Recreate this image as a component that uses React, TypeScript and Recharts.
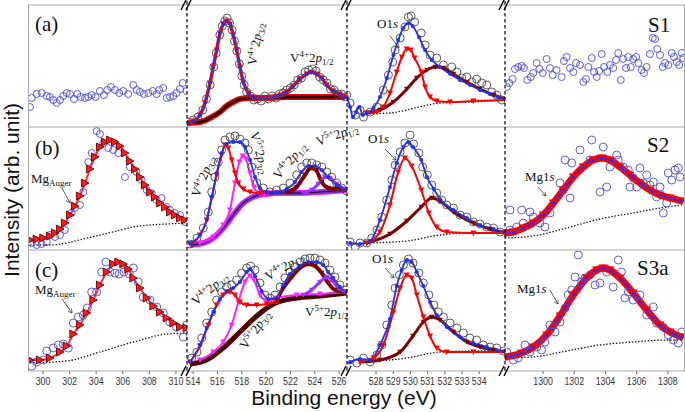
import React from "react";
import { ComposedChart, Line, Scatter, XAxis, YAxis } from "recharts";

// ---------- data: [binding energy (eV), intensity (arb.)] ----------
// row (a) / S1
const a1Raw = [[299.02,20],[299.15,29],[299.52,33],[299.9,34],[300.28,31],[300.52,30],[300.77,27],[301.03,24],[301.28,27],[301.52,31],[301.78,34],[302.03,33],[302.33,28],[302.58,33],[302.83,30],[303.16,29],[303.4,30],[303.66,32],[303.96,30],[304.28,36],[304.58,32],[304.83,37],[305.11,40],[305.41,37],[305.73,34],[306.04,36],[306.41,33],[306.79,42],[307.04,37],[307.29,35],[307.59,33],[307.92,34],[308.25,36],[308.55,33],[308.74,37],[309.04,39],[309.3,29],[309.55,30],[309.8,31],[310.05,34],[310.3,38],[310.5,44],[310.8,36]];
const a2Raw = [[513.6,5],[514.0,7],[514.4,10],[514.8,17],[515.1,28],[515.4,42],[515.7,60],[515.9,74],[516.2,92],[516.4,101],[516.6,106],[516.8,109],[517.0,104],[517.2,97],[517.4,86],[517.6,76],[517.8,63],[518.0,51],[518.2,42],[518.4,35],[518.7,31],[519.0,27],[519.3,28],[519.6,26],[519.9,31],[520.2,28],[520.5,31],[520.8,29],[521.1,33],[521.4,34],[521.7,37],[522.0,39],[522.3,42],[522.6,47],[522.9,49],[523.2,55],[523.5,57],[523.8,58],[524.1,56],[524.4,50],[524.7,47],[525.0,44],[525.3,38],[525.6,37],[525.9,33],[526.2,33],[526.5,30]];
const a2Fit = [[513.48,4],[514.02,6],[514.57,12],[514.98,24],[515.39,44],[515.66,60],[515.94,77],[516.21,94],[516.48,103],[516.76,106],[517.03,103],[517.3,92],[517.58,77],[517.85,60],[518.13,45],[518.54,34],[518.95,30],[519.5,29],[520.05,29],[520.59,30],[521.14,32],[521.69,35],[522.23,41],[522.78,48],[523.34,53],[523.75,55],[524.16,53],[524.57,49],[524.98,42],[525.52,36],[526.07,33],[526.48,30]];
const a2Bg = [[513.48,4],[514.57,5],[515.39,9],[516.21,15],[516.76,21],[517.3,25],[517.85,28],[518.68,29],[520.05,29],[521.69,30],[523.89,30],[526.48,30]];
const a3Raw = [[526.3,32],[526.49,24],[526.79,12],[527.07,17],[527.27,10],[527.66,15],[528.05,20],[528.42,37],[528.72,52],[528.97,65],[529.11,77],[529.4,89],[529.68,100],[529.88,110],[530.04,111],[530.24,105],[530.63,94],[530.85,82],[531.14,72],[531.53,69],[531.92,62],[532.4,60],[532.7,55],[532.98,49],[533.28,50],[533.57,45],[533.85,48],[534.15,44],[534.44,42],[534.72,35],[535.02,32],[535.31,27]];
const a3Env = [[526.3,30],[526.49,20],[526.65,10],[526.84,15],[527.03,20],[527.23,12],[527.46,14],[527.85,19],[528.23,30],[528.63,49],[529.01,72],[529.29,87],[529.59,99],[529.88,104],[530.13,101],[530.49,90],[530.85,77],[531.24,67],[531.72,60],[532.31,53],[532.89,47],[533.46,42],[534.05,37],[534.63,33],[535.11,30],[535.5,28]];
const a3C1 = [[527.46,14],[528.05,15],[528.42,20],[528.81,34],[529.2,55],[529.5,70],[529.79,78],[530.02,77],[530.24,69],[530.63,55],[530.85,40],[531.14,30],[531.53,26],[532.31,25],[533.66,26],[535.5,27]];
const a3C2 = [[527.46,14],[528.23,17],[529.01,25],[529.79,38],[530.37,49],[530.96,57],[531.44,60],[531.92,59],[532.5,53],[533.28,45],[534.05,38],[534.83,32],[535.5,28]];
const a3Bg = [[527.46,13],[528.81,14],[529.79,17],[530.75,21],[531.72,24],[533.66,25],[535.5,27]];
const a4Raw = [[1297.67,40],[1297.84,44],[1298.05,48],[1298.2,58],[1298.41,60],[1298.63,61],[1298.78,59],[1298.99,47],[1299.21,50],[1299.37,54],[1299.59,64],[1299.76,58],[1299.98,54],[1300.23,68],[1300.44,59],[1300.62,52],[1300.87,57],[1301.19,50],[1301.34,66],[1301.51,70],[1301.73,59],[1301.94,55],[1302.11,64],[1302.37,62],[1302.58,45],[1302.75,48],[1302.9,60],[1303.12,69],[1303.27,55],[1303.44,50],[1303.6,56],[1303.76,73],[1303.91,60],[1304.12,55],[1304.29,62],[1304.5,59],[1304.68,67],[1304.82,74],[1304.98,47],[1305.14,68],[1305.32,59],[1305.46,70],[1305.62,60],[1305.78,68],[1305.96,70],[1306.11,64],[1306.32,57],[1306.47,54],[1306.64,60],[1306.85,73],[1307.03,89],[1307.18,88],[1307.32,78],[1307.5,72],[1307.67,60],[1307.82,64],[1308.03,62],[1308.25,74],[1308.39,70],[1308.57,65],[1308.73,62],[1308.89,74],[1308.99,69]];

// row (b) / S2
const b1Raw = [[299.15,7],[299.52,5],[299.9,6],[300.28,8],[300.52,15],[300.9,13],[301.28,15],[301.65,20],[302.15,37],[302.4,42],[302.78,45],[303.03,58],[303.4,88],[303.66,97],[304.03,119],[304.28,116],[304.53,107],[304.91,102],[305.28,100],[305.66,97],[306.16,73],[306.54,83],[307.04,78],[307.42,70],[307.8,60],[308.17,57],[308.55,50],[308.92,52],[309.3,43],[309.55,40],[309.92,37],[310.3,35],[310.67,28]];
const b1Fit = [[299.02,10],[299.52,11],[300.02,12],[300.52,14],[300.9,17],[301.28,21],[301.65,27],[302.03,35],[302.4,44],[302.78,54],[303.16,67],[303.53,81],[303.91,93],[304.28,103],[304.66,108],[305.04,110],[305.41,108],[305.79,104],[306.16,97],[306.54,89],[306.92,81],[307.29,73],[307.67,65],[308.04,58],[308.42,53],[308.8,47],[309.17,43],[309.55,38],[309.92,35],[310.3,32],[310.67,30]];
const b1Bg = [[299.02,5],[300.52,5],[301.78,7],[303.03,11],[304.28,15],[305.54,19],[306.79,23],[308.04,25],[309.3,26],[310.67,27]];
const b2Raw = [[513.75,6],[514.32,12],[514.84,22],[515.25,38],[515.53,58],[515.8,73],[516.07,88],[516.35,100],[516.62,110],[517.03,113],[517.44,114],[517.85,111],[518.27,107],[518.54,100],[518.82,83],[519.23,67],[519.77,62],[520.32,58],[520.87,60],[521.41,62],[521.96,67],[522.51,75],[522.92,83],[523.34,87],[523.75,87],[524.16,85],[524.57,83],[524.98,78],[525.39,73],[525.8,67],[526.21,62],[526.62,59]];
const b2Env = [[513.75,7],[514.57,15],[515.12,30],[515.53,53],[515.94,77],[516.35,97],[516.76,106],[517.3,108],[517.85,108],[518.27,103],[518.68,90],[519.09,73],[519.5,62],[520.05,58],[520.87,58],[521.69,61],[522.37,68],[522.92,78],[523.47,84],[524.02,84],[524.57,80],[525.11,73],[525.8,65],[526.62,60]];
const b2V4a = [[513.75,6],[514.57,15],[515.12,30],[515.53,52],[515.94,75],[516.35,95],[516.62,105],[516.89,102],[517.17,90],[517.44,77],[517.72,67],[518.13,61],[518.68,58],[519.5,57],[520.05,57]];
const b2V5a = [[514.57,7],[515.66,13],[516.48,25],[517.03,40],[517.44,67],[517.8,88],[518.08,94],[518.35,91],[518.68,77],[519.0,63],[519.5,56],[520.05,55]];
const b2Bg = [[513.75,5],[514.84,7],[515.66,12],[516.48,22],[517.3,35],[518.13,47],[518.95,53],[519.77,56],[521.14,57],[522.78,57],[524.43,58],[526.62,60]];
const b2V4b = [[521.69,58],[522.51,63],[523.2,75],[523.66,82],[524.1,80],[524.57,68],[525.11,62],[525.8,61],[526.62,60]];
const b2V5b = [[523.06,57],[523.75,60],[524.29,66],[524.84,73],[525.25,72],[525.8,66],[526.62,60]];
const b3Raw = [[526.49,8],[526.79,3],[527.07,7],[527.46,7],[527.75,12],[528.05,20],[528.33,33],[528.62,50],[528.92,70],[529.11,85],[529.4,98],[529.68,107],[529.98,115],[530.18,106],[530.49,97],[530.71,83],[530.98,75],[531.24,65],[531.53,57],[531.81,50],[532.11,45],[532.5,42],[532.89,35],[533.28,33],[533.66,28],[534.05,26],[534.44,23],[534.83,22],[535.22,18]];
const b3Env = [[526.49,7],[527.07,6],[527.66,9],[528.23,30],[528.81,63],[529.2,87],[529.59,103],[529.88,108],[530.15,103],[530.63,90],[530.96,73],[531.36,61],[531.72,51],[532.5,40],[533.28,32],[534.05,25],[534.83,21],[535.5,18]];
const b3C1 = [[527.46,7],[528.23,18],[528.81,45],[529.29,78],[529.68,92],[530.07,84],[530.63,60],[531.07,37],[531.53,23],[532.11,18],[533.66,17],[535.5,17]];
const b3C2 = [[527.46,7],[528.81,16],[529.79,29],[530.63,43],[531.24,52],[531.72,49],[532.5,38],[533.66,27],[534.63,21],[535.5,17]];
const b3Bg = [[527.46,7],[529.79,9],[531.72,15],[533.66,17],[535.5,17]];
const b4Raw = [[1297.88,20],[1298.31,23],[1298.73,27],[1297.88,40],[1298.63,40],[1299.16,38],[1299.37,33],[1299.8,27],[1300.12,23],[1300.44,37],[1301.09,67],[1301.3,60],[1301.41,90],[1301.73,52],[1301.84,87],[1302.37,100],[1303.01,90],[1303.12,110],[1303.65,58],[1303.86,103],[1304.08,63],[1304.29,83],[1304.72,95],[1304.82,90],[1305.14,83],[1305.46,80],[1305.57,63],[1305.78,72],[1306.0,63],[1306.21,82],[1306.43,67],[1306.64,75],[1306.85,65],[1307.07,68],[1307.28,53],[1307.5,63],[1307.71,37],[1307.92,47],[1308.03,77],[1308.25,70],[1308.46,80],[1308.67,82],[1308.78,73]];
const b4Fit = [[1297.56,17],[1298.09,18],[1298.73,22],[1299.37,27],[1300.02,35],[1300.66,47],[1301.3,60],[1301.94,73],[1302.58,83],[1303.22,90],[1303.76,92],[1304.29,90],[1304.93,83],[1305.57,75],[1306.21,67],[1306.85,60],[1307.5,55],[1308.14,52],[1308.89,49]];
const b4Bg = [[1297.56,12],[1299.37,14],[1301.51,22],[1303.65,31],[1305.78,37],[1307.92,43],[1308.89,45]];

// row (c) / S3a
const c1Raw = [[299.15,5],[299.52,9],[300.02,11],[300.28,20],[300.77,23],[301.15,26],[301.52,27],[301.9,23],[302.28,48],[302.65,54],[303.03,56],[303.33,63],[303.66,79],[304.03,79],[304.41,99],[304.73,109],[305.04,99],[305.41,98],[305.73,97],[306.09,99],[306.49,97],[306.79,103],[307.16,89],[307.54,74],[308.04,71],[308.55,64],[309.04,58],[309.55,49],[310.05,44],[310.55,34],[310.8,46]];
const c1Fit = [[299.02,11],[299.77,11],[300.52,13],[301.28,19],[301.78,25],[302.28,37],[302.78,46],[303.28,58],[303.78,71],[304.28,86],[304.79,99],[305.28,107],[305.66,109],[306.04,107],[306.41,102],[306.79,93],[307.29,83],[307.8,73],[308.3,65],[308.8,59],[309.3,53],[309.8,48],[310.3,44],[310.8,43]];
const c1Bg = [[299.02,8],[301.78,10],[304.28,19],[306.79,29],[309.3,37],[310.8,38]];
const c2Raw = [[513.89,13],[514.32,19],[514.71,33],[515.12,48],[515.53,59],[515.94,71],[516.35,79],[516.76,84],[517.17,86],[517.58,91],[517.99,98],[518.4,103],[518.73,105],[519.09,101],[519.5,88],[519.91,76],[520.32,73],[520.73,76],[521.14,84],[521.55,93],[521.96,99],[522.37,104],[522.78,109],[523.2,112],[523.61,113],[524.02,113],[524.43,111],[524.84,108],[525.25,101],[525.66,94],[526.07,86],[526.48,81]];
const c2Env = [[513.75,9],[514.57,26],[515.12,43],[515.66,59],[516.21,72],[516.76,80],[517.3,83],[517.85,89],[518.4,99],[518.68,102],[519.09,95],[519.63,80],[520.18,72],[520.87,73],[521.41,86],[521.96,97],[522.78,105],[523.47,109],[524.16,109],[524.71,106],[525.11,99],[525.52,93],[526.07,84],[526.62,79]];
const c2V4a = [[513.75,9],[514.57,25],[515.25,46],[515.94,66],[516.48,76],[517.03,79],[517.44,76],[517.85,69],[518.4,66],[519.23,66],[520.05,67],[520.87,69]];
const c2V5a = [[514.57,11],[515.66,19],[516.48,29],[517.17,46],[517.72,69],[518.27,89],[518.68,95],[519.0,91],[519.5,76],[520.05,70],[520.87,73],[522.51,76],[524.43,77],[526.62,79]];
const c2Bg = [[513.75,7],[515.12,11],[516.48,23],[517.85,39],[519.23,55],[520.32,65],[521.0,69],[522.51,73],[524.43,75],[526.62,78]];
const c2V4b = [[520.87,71],[521.41,83],[522.1,94],[522.78,103],[523.47,107],[524.02,105],[524.57,98],[525.11,88],[525.66,81],[526.62,79]];
const c2V5b = [[523.06,76],[523.75,81],[524.43,89],[524.98,94],[525.39,91],[525.93,83],[526.62,79]];
const c3Raw = [[526.49,11],[526.88,8],[527.27,13],[527.66,9],[528.05,16],[528.33,26],[528.62,46],[528.92,66],[529.11,83],[529.36,96],[529.59,106],[529.88,112],[530.15,108],[530.49,98],[530.75,88],[531.07,76],[531.36,66],[531.62,59],[531.92,54],[532.31,48],[532.7,43],[533.08,38],[533.46,33],[533.85,31],[534.24,26],[534.63,24],[535.02,23],[535.41,20]];
const c3Env = [[526.49,9],[527.07,12],[527.66,11],[528.23,26],[528.81,52],[529.2,85],[529.49,101],[529.79,111],[530.07,109],[530.37,99],[530.75,85],[531.14,69],[531.53,56],[532.11,44],[532.89,34],[533.66,28],[534.44,24],[535.02,21],[535.5,19]];
const c3C1 = [[527.07,9],[527.85,13],[528.42,26],[529.01,59],[529.4,83],[529.79,96],[530.07,93],[530.37,76],[530.75,54],[531.14,35],[531.53,23],[532.11,19],[533.66,19],[535.5,19]];
const c3C2 = [[527.07,9],[528.23,11],[529.4,19],[530.15,35],[530.75,49],[531.24,54],[531.72,51],[532.5,39],[533.28,29],[534.05,24],[534.83,21],[535.5,19]];
const c3Bg = [[527.07,9],[529.79,13],[531.72,19],[533.66,20],[535.5,20]];
const c4Raw = [[1297.67,19],[1298.09,11],[1298.41,13],[1298.84,26],[1299.16,19],[1299.59,24],[1299.9,21],[1300.12,29],[1300.44,46],[1300.77,39],[1301.09,49],[1301.41,63],[1301.62,76],[1301.84,81],[1302.05,94],[1302.26,116],[1302.48,89],[1302.69,93],[1303.01,96],[1303.33,86],[1303.65,88],[1304.08,99],[1304.5,84],[1304.82,111],[1305.03,99],[1305.25,73],[1305.46,79],[1305.78,71],[1306.21,76],[1306.64,56],[1307.07,64],[1307.28,48],[1307.71,44],[1308.03,36],[1308.35,31],[1308.67,28],[1308.89,39]];
const c4Fit = [[1297.56,14],[1298.63,18],[1299.37,24],[1300.23,36],[1301.09,55],[1301.94,76],[1302.8,93],[1303.44,101],[1303.86,103],[1304.29,101],[1304.93,93],[1305.78,78],[1306.64,61],[1307.5,46],[1308.14,39],[1308.89,34]];
const c4Bg = [[1297.56,13],[1299.37,14],[1301.51,20],[1303.65,26],[1305.78,29],[1307.92,31],[1308.89,31]];

const ticks1 = [300, 302, 304, 306, 308, 310];
const ticks2 = [514, 516, 518, 520, 522, 524, 526];
const ticks3 = [528, 529, 530, 531, 532, 533, 534];
const ticks4 = [1300, 1302, 1304, 1306, 1308];

// ---------- layout ----------
const COLS = [
  { left: 28, right: 187, domain: [298.87, 310.83], ticks: ticks1 },
  { left: 187, right: 347, domain: [513.5, 526.65], ticks: ticks2 },
  { left: 347, right: 505, domain: [526.31, 535.5], ticks: ticks3 },
  { left: 505, right: 685, domain: [1297.56, 1309.1], ticks: ticks4 },
];
const ROWS = [
  { top: 5, bottom: 127 },
  { top: 127, bottom: 250 },
  { top: 250, bottom: 371 },
];
const SERIF = "'Liberation Serif', 'Times New Roman', serif";
const SANS = "'Liberation Sans', Arial, sans-serif";

const RING_BLUE = "#4b4be0";
const RING_GRAY = "#4a4a4a";
const RED = "#ff0000";
const BLUE = "#1f2fff";
const DARKRED = "#800000";
const MAGENTA = "#ff22ff";
const VIOLET = "#9a33ff";
const PURPLE = "#7a2fd6";

const pts = (a: number[][]) => a.map(([x, y]) => ({ x, y }));

const ring = (color: string, r: number) => (p: any) =>
  <circle cx={p.cx} cy={p.cy} r={r} fill="none" stroke={color} strokeWidth={0.9} />;
const triDown = (fill: string, s: number) => (p: any) =>
  <polygon key={`t${p.index}`} points={`${p.cx - s},${p.cy - s * 0.8} ${p.cx + s},${p.cy - s * 0.8} ${p.cx},${p.cy + s}`} fill={fill} />;
const triRight = (p: any) =>
  <polygon key={`r${p.index}`} points={`${p.cx - 3.5},${p.cy - 4} ${p.cx + 4},${p.cy} ${p.cx - 3.5},${p.cy + 4}`} fill="#ff1a1a" stroke="#6a0000" strokeWidth={0.9} />;
const dotC = (fill: string, r: number) => (p: any) =>
  <circle key={`c${p.index}`} cx={p.cx} cy={p.cy} r={r} fill={fill} />;

const raw = (d: number[][], color: string, r = 3.5) =>
  <Scatter data={pts(d)} shape={ring(color, r)} isAnimationActive={false} />;
const curve = (d: number[][], color: string, width: number, dot: any = false, dash?: string) =>
  <Line data={pts(d)} dataKey="y" type="monotone" stroke={color} strokeWidth={width} strokeDasharray={dash}
    dot={dot} activeDot={false} isAnimationActive={false} />;
const dotted = (d: number[][]) => curve(d, "#111", 1.3, false, "1.4 1.8");

const Tick = (p: any) => (
  <g transform={`translate(${p.x},${p.y})`}>
    <text transform="scale(0.84,1)" textAnchor="middle" dy={9} fontSize={10.5} fontFamily={SANS} fill="#333">
      {p.payload.value}
    </text>
  </g>
);

function Panel({ r, c, children }: any) {
  const col = COLS[c];
  const row = ROWS[r];
  const w = col.right - col.left;
  const h = row.bottom - row.top;
  const last = r === ROWS.length - 1;
  return (
    <div style={{ position: "absolute", left: col.left, top: row.top }}>
      <ComposedChart width={w} height={h + (last ? 26 : 0)} margin={{ top: 0, right: 0, bottom: 0, left: 0 }}>
        <XAxis type="number" dataKey="x" domain={col.domain} allowDataOverflow hide={!last} ticks={col.ticks}
          interval={0} height={26} axisLine={false} tickSize={3} tickLine={{ stroke: "#666" }} tick={<Tick />} />
        <YAxis type="number" dataKey="y" domain={[0, h]} allowDataOverflow hide />
        {children}
      </ComposedChart>
    </div>
  );
}

const VLab = ({ x, y, rot = 0, ox, sub }: any) => (
  <text transform={`translate(${x},${y}) rotate(${rot})`} fontFamily={SERIF} fontSize={13} fill="#111">
    V<tspan dy={-5} fontSize={9}>{ox}</tspan>
    <tspan dy={5}>2</tspan>
    <tspan fontStyle="italic">p</tspan>
    <tspan dy={3} fontSize={9}>{sub}</tspan>
  </text>
);

const Arrow = ({ x1, y1, x2, y2 }: any) =>
  <line x1={x1} y1={y1} x2={x2} y2={y2} stroke="#333" strokeWidth={0.8} markerEnd="url(#ah)" />;

function Overlay() {
  const breaks: any[] = [];
  [187, 347, 505].forEach((x) => {
    [5, 371].forEach((y) => {
      breaks.push(<line key={`${x}a${y}`} x1={x - 6} y1={y + 5} x2={x - 1} y2={y - 5} stroke="#000" strokeWidth={1.4} />);
      breaks.push(<line key={`${x}b${y}`} x1={x - 1} y1={y + 5} x2={x + 4} y2={y - 5} stroke="#000" strokeWidth={1.4} />);
    });
  });
  return (
    <svg width={685} height={412} style={{ position: "absolute", left: 0, top: 0 }}>
      <defs>
        <marker id="ah" markerWidth="6" markerHeight="6" refX="5" refY="3" orient="auto">
          <path d="M0,0 L5,3 L0,6" fill="none" stroke="#333" strokeWidth={0.8} />
        </marker>
      </defs>
      {[5, 127, 250, 371].map((y) => <line key={y} x1={28} y1={y} x2={685} y2={y} stroke="#a8a8a8" strokeWidth={1} />)}
      <line x1={28.5} y1={5} x2={28.5} y2={371} stroke="#a8a8a8" strokeWidth={1} />
      <line x1={684.5} y1={5} x2={684.5} y2={371} stroke="#a8a8a8" strokeWidth={1} />
      {[187, 347, 505].map((x) => <line key={x} x1={x} y1={1} x2={x} y2={371} stroke="#000" strokeWidth={1.2} strokeDasharray="3.5 2.5" />)}
      {breaks}

      <g fontFamily={SERIF} fontSize={21} fill="#111">
        <text x={35} y={31}>(a)</text>
        <text x={35} y={155}>(b)</text>
        <text x={35} y={277}>(c)</text>
        <text x={648} y={32}>S1</text>
        <text x={647} y={152}>S2</text>
        <text x={637} y={275}>S3a</text>
      </g>

      <VLab x={256} y={66} rot={-80} ox="4+" sub="3/2" />
      <VLab x={290} y={62} ox="4+" sub="1/2" />
      <VLab x={199} y={198} rot={-68} ox="4+" sub="3/2" />
      <VLab x={250} y={133} rot={75} ox="5+" sub="3/2" />
      <VLab x={279} y={180} rot={-50} ox="4+" sub="1/2" />
      <VLab x={318} y={146} rot={-20} ox="5+" sub="1/2" />
      <VLab x={196} y={306} rot={-40} ox="4+" sub="3/2" />
      <VLab x={268} y={281} rot={-30} ox="4+" sub="1/2" />
      <VLab x={246} y={350} rot={-55} ox="5+" sub="3/2" />
      <VLab x={305} y={316} ox="5+" sub="1/2" />

      <g fontFamily={SERIF} fontSize={13} fill="#111">
        <text x={377} y={28}>O1<tspan fontStyle="italic">s</tspan></text>
        <text x={368} y={143}>O1<tspan fontStyle="italic">s</tspan></text>
        <text x={372} y={263}>O1<tspan fontStyle="italic">s</tspan></text>
        <text x={525} y={181}>Mg1<tspan fontStyle="italic">s</tspan></text>
        <text x={517} y={293}>Mg1<tspan fontStyle="italic">s</tspan></text>
        <text x={31} y={183}>Mg<tspan dy={3} fontSize={9}>Auger</tspan></text>
        <text x={35} y={294}>Mg<tspan dy={3} fontSize={9}>Auger</tspan></text>
      </g>
      <Arrow x1={390} y1={36} x2={399} y2={48} />
      <Arrow x1={385} y1={149} x2={396} y2={160} />
      <Arrow x1={385} y1={268} x2={394} y2={278} />
      <Arrow x1={538} y1={187} x2={546} y2={196} />
      <Arrow x1={550} y1={290} x2={558} y2={304} />
      <Arrow x1={62} y1={188} x2={70} y2={203} />
      <Arrow x1={62} y1={299} x2={72} y2={313} />

      <text transform="translate(19,190) rotate(-90)" textAnchor="middle" fontFamily={SANS} fontSize={21} fill="#111">
        Intensity (arb. unit)
      </text>
      <text x={344} y={405} textAnchor="middle" fontFamily={SANS} fontSize={21} fill="#111">
        Binding energy (eV)
      </text>
    </svg>
  );
}

export default function App() {
  return (
    <div style={{ position: "fixed", left: 0, top: 0, width: 685, height: 412, background: "#fff", overflow: "hidden" }}>
      <style>{`.recharts-surface { overflow: visible; }`}</style>
      {/* row a */}
      <Panel r={0} c={0}>
        {raw(a1Raw, RING_BLUE)}
      </Panel>
      <Panel r={0} c={1}>
        {raw(a2Raw, RING_GRAY, 4)}
        {curve(a2Bg, RED, 6)}
        {curve(a2Bg, "#2a0000", 3)}
        {curve(a2Fit, RED, 3.5, triDown(RED, 3))}
        {curve(a2Fit, BLUE, 1.6, dotC(BLUE, 1.8))}
      </Panel>
      <Panel r={0} c={2}>
        {raw(a3Raw, RING_GRAY, 4)}
        {dotted(a3Bg)}
        {curve(a3C2, DARKRED, 3, triDown(DARKRED, 2.8))}
        {curve(a3C1, RED, 2, triDown(RED, 3))}
        {curve(a3Env, BLUE, 1.8, dotC(BLUE, 2))}
      </Panel>
      <Panel r={0} c={3}>
        {raw(a4Raw, RING_BLUE)}
      </Panel>

      {/* row b */}
      <Panel r={1} c={0}>
        {raw(b1Raw, RING_BLUE)}
        {dotted(b1Bg)}
        {curve(b1Fit, "#ff3030", 2, triRight)}
      </Panel>
      <Panel r={1} c={1}>
        {raw(b2Raw, RING_GRAY, 4)}
        {curve(b2Bg, MAGENTA, 6)}
        {curve(b2Bg, PURPLE, 4)}
        {curve(b2Bg, "#111", 1)}
        {curve(b2V5a, MAGENTA, 2, triDown(MAGENTA, 3))}
        {curve(b2V4a, RED, 2, triDown(RED, 3))}
        {curve(b2V4b, DARKRED, 4, triDown(DARKRED, 2.8))}
        {curve(b2V5b, VIOLET, 3, triDown(VIOLET, 2.8))}
        {curve(b2Env, BLUE, 1.8, dotC(BLUE, 2))}
      </Panel>
      <Panel r={1} c={2}>
        {raw(b3Raw, RING_GRAY, 4)}
        {dotted(b3Bg)}
        {curve(b3C2, DARKRED, 3, triDown(DARKRED, 2.8))}
        {curve(b3C1, RED, 2, triDown(RED, 3))}
        {curve(b3Env, BLUE, 1.8, dotC(BLUE, 2))}
      </Panel>
      <Panel r={1} c={3}>
        {raw(b4Raw, RING_BLUE, 4)}
        {dotted(b4Bg)}
        {curve(b4Fit, RED, 7, triDown(RED, 4.5))}
        {curve(b4Fit, BLUE, 1.5, dotC(BLUE, 1.6))}
      </Panel>

      {/* row c */}
      <Panel r={2} c={0}>
        {raw(c1Raw, RING_BLUE, 4)}
        {dotted(c1Bg)}
        {curve(c1Fit, "#ff3030", 2, triRight)}
      </Panel>
      <Panel r={2} c={1}>
        {raw(c2Raw, RING_GRAY, 4)}
        {curve(c2Bg, "#5a0000", 5)}
        {curve(c2Bg, "#111", 1)}
        {curve(c2V5a, MAGENTA, 2, triDown(MAGENTA, 3))}
        {curve(c2V4a, RED, 2, triDown(RED, 3))}
        {curve(c2V4b, DARKRED, 4, triDown(DARKRED, 2.8))}
        {curve(c2V5b, VIOLET, 3, triDown(VIOLET, 2.8))}
        {curve(c2Env, BLUE, 1.8, dotC(BLUE, 2))}
      </Panel>
      <Panel r={2} c={2}>
        {raw(c3Raw, RING_GRAY, 4)}
        {dotted(c3Bg)}
        {curve(c3C2, DARKRED, 3, triDown(DARKRED, 2.8))}
        {curve(c3C1, RED, 2, triDown(RED, 3))}
        {curve(c3Env, BLUE, 1.8, dotC(BLUE, 2))}
      </Panel>
      <Panel r={2} c={3}>
        {raw(c4Raw, RING_BLUE, 4)}
        {dotted(c4Bg)}
        {curve(c4Fit, RED, 7, triDown(RED, 4.5))}
        {curve(c4Fit, BLUE, 1.5, dotC(BLUE, 1.6))}
      </Panel>

      <Overlay />
    </div>
  );
}
